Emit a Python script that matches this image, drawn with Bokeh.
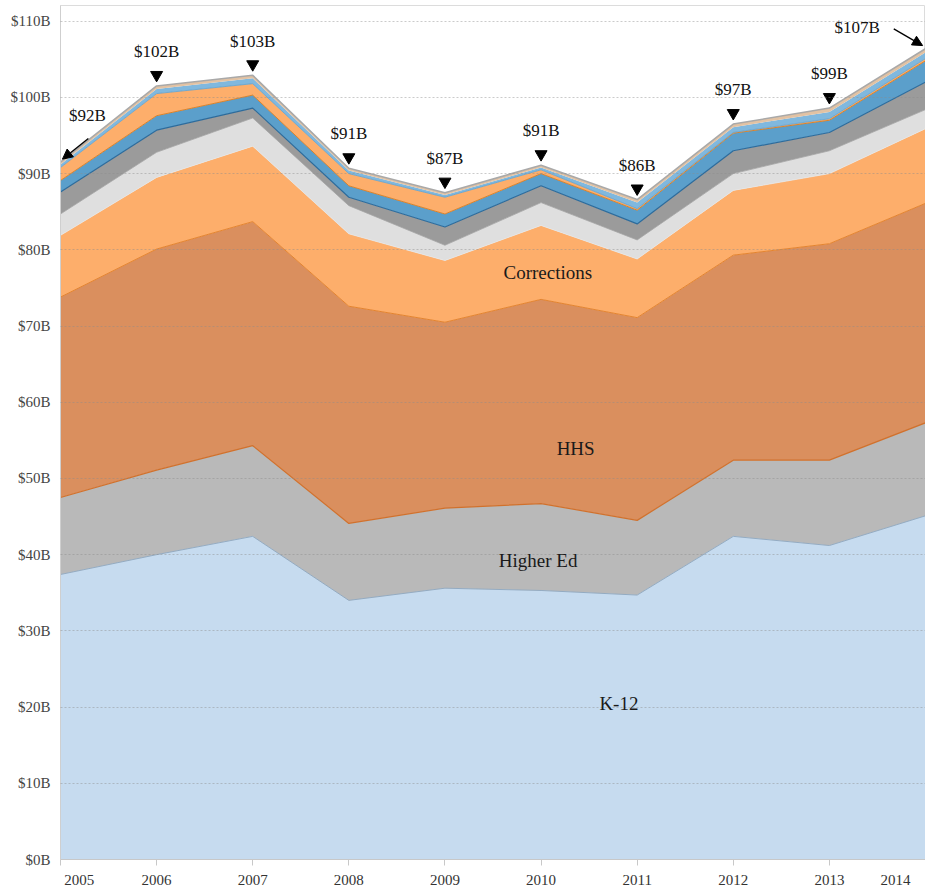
from bokeh.plotting import figure
from bokeh.models import Range1d, FixedTicker, Label, Arrow, NormalHead, ColumnDataSource
from bokeh.transform import stack
from bokeh.core.properties import value
from bokeh.embed import file_html
from bokeh.resources import INLINE

# ---------------- data (billions of dollars) ----------------
years = [2005, 2006, 2007, 2008, 2009, 2010, 2011, 2012, 2013, 2014]
k12 = [37.4, 40.0, 42.4, 34.0, 35.6, 35.3, 34.7, 42.4, 41.2, 45.1]
higher_ed = [10.1, 11.1, 11.9, 10.1, 10.5, 11.4, 9.8, 10.0, 11.2, 12.2]
hhs = [26.3, 29.0, 29.4, 28.5, 24.4, 26.8, 26.6, 26.9, 28.4, 28.8]
corrections = [8.1, 9.4, 9.9, 9.5, 8.1, 9.7, 7.7, 8.5, 9.2, 9.8]
other_a = [2.8, 3.3, 3.7, 3.7, 2.0, 3.0, 2.5, 2.2, 3.0, 2.5]
other_b = [2.9, 2.9, 1.3, 1.1, 2.4, 2.2, 2.1, 3.0, 2.4, 3.6]
other_c = [1.5, 1.9, 1.7, 1.5, 1.7, 1.6, 1.8, 2.3, 1.6, 2.8]
other_d = [1.7, 2.9, 1.5, 1.6, 2.2, 0.5, 0.2, 0.1, 0.2, 0.3]
other_e = [0.4, 0.6, 0.7, 0.4, 0.3, 0.3, 0.8, 0.7, 0.9, 0.8]
other_f = [0.3, 0.4, 0.4, 0.3, 0.3, 0.3, 0.4, 0.4, 0.5, 0.5]

total_labels = ["$92B", "$102B", "$103B", "$91B", "$87B", "$91B",
                "$86B", "$97B", "$99B", "$107B"]

y_ticks = [0, 10, 20, 30, 40, 50, 60, 70, 80, 90, 100, 110]
y_tick_labels = ["$0B", "$10B", "$20B", "$30B", "$40B", "$50B",
                 "$60B", "$70B", "$80B", "$90B", "$100B", "$110B"]
x_tick_labels = ["2005", "2006", "2007", "2008", "2009", "2010",
                 "2011", "2012", "2013", "2014"]

layer_keys = ["k12", "higher_ed", "hhs", "corrections", "other_a",
              "other_b", "other_c", "other_d", "other_e", "other_f"]
layer_values = [k12, higher_ed, hhs, corrections, other_a,
                other_b, other_c, other_d, other_e, other_f]
layer_colors = ["#c6dbef", "#b9b9b9", "#da8f5e", "#fdae6b", "#dfdfdf",
                "#9b9b9b", "#5b9fcb", "#fdae6b", "#80b8de", "#e2c2a3"]

# ---------------- figure ----------------
SERIF = "Liberation Serif"

data = {"year": years}
for k, v in zip(layer_keys, layer_values):
    data[k] = v
source = ColumnDataSource(data)

totals = [round(sum(vals), 2) for vals in zip(*layer_values)]

p = figure(width=925, height=891,
           x_range=Range1d(2005, 2014), y_range=Range1d(0, 112.06),
           output_backend="svg", toolbar_location=None,
           min_border_left=60, min_border_right=0,
           min_border_top=5, min_border_bottom=32)

p.varea_stack(stackers=layer_keys, x="year", color=layer_colors,
              source=source)

# boundary lines
edge_specs = [
    (["k12"], "#93abc2", 1.0),
    (["k12", "higher_ed"], "#d0712d", 1.2),
    (layer_keys[:3], "#e4842f", 1.0),
    (layer_keys[:4], "#e6e6e6", 0.8),
    (layer_keys[:5], "#a5a5a5", 0.8),
    (layer_keys[:6], "#2d6b9b", 1.2),
    (layer_keys[:7], "#d9822b", 1.0),
    (layer_keys[:8], "#5f9fcc", 0.8),
    (layer_keys, "#a9a9a9", 1.6),
]
for keys, col, w in edge_specs:
    p.line(x="year", y=stack(*keys), source=source, line_color=col,
           line_width=w)

# total markers and labels (middle years)
mid_x = years[1:-1]
mid_tot = totals[1:-1]
p.scatter(x=mid_x, y=[t + 1.45 for t in mid_tot], marker="inverted_triangle",
          size=12, color="black")
p.text(x=mid_x, y=[t + 4.5 for t in mid_tot], text=total_labels[1:-1],
       text_align="center", text_baseline="middle",
       text_font=value(SERIF), text_font_size="17px", text_color="#111")

# first / last year labels with arrows
p.text(x=[years[0] + 0.28, years[-1] - 0.71],
       y=[totals[0] + 6.1, totals[-1] + 2.8],
       text=[total_labels[0], total_labels[-1]],
       text_align="center", text_baseline="middle",
       text_font=value(SERIF), text_font_size="17px", text_color="#111")
p.add_layout(Arrow(end=NormalHead(size=10, fill_color="black", line_color="black"),
                   x_start=years[0] + 0.29, y_start=totals[0] + 3.1,
                   x_end=years[0] + 0.02, y_end=totals[0] + 0.4,
                   line_width=1.3, line_color="black"))
p.add_layout(Arrow(end=NormalHead(size=10, fill_color="black", line_color="black"),
                   x_start=years[-1] - 0.33, y_start=totals[-1] + 2.6,
                   x_end=years[-1] - 0.03, y_end=totals[-1] + 0.4,
                   line_width=1.3, line_color="black"))

# category labels
for txt, lx, ly in [("Corrections", 2010.07, 77.0), ("HHS", 2010.36, 53.9),
                    ("Higher Ed", 2009.97, 39.2), ("K-12", 2010.81, 20.5)]:
    p.add_layout(Label(x=lx, y=ly, text=txt, text_align="center",
                       text_baseline="middle", text_font=SERIF,
                       text_font_size="19px", text_color="#1a1a1a"))

# axes and grid
p.xgrid.visible = False
p.ygrid.ticker = FixedTicker(ticks=y_ticks)
p.ygrid.grid_line_color = "#8c8c8c"
p.ygrid.grid_line_alpha = 0.45
p.ygrid.grid_line_dash = "2 2"
p.ygrid.level = "guide"

p.yaxis.ticker = FixedTicker(ticks=y_ticks)
p.yaxis.major_label_overrides = {t: l for t, l in zip(y_ticks, y_tick_labels)}
p.yaxis.axis_line_color = "#cfcfcf"
p.yaxis.major_tick_line_color = None
p.yaxis.major_tick_out = 0
p.yaxis.major_tick_in = 0
p.yaxis.minor_tick_line_color = None
p.yaxis.major_label_standoff = 10
p.yaxis.major_label_text_font = SERIF
p.yaxis.major_label_text_font_size = "15px"
p.yaxis.major_label_text_color = "#444444"

p.xaxis.ticker = FixedTicker(ticks=years)
x_over = {y: l for y, l in zip(years, x_tick_labels)}
x_over[years[0]] = "\u2002" * 5 + x_tick_labels[0]
x_over[years[-1]] = x_tick_labels[-1] + "\u2002" * 2
p.xaxis.major_label_overrides = x_over
p.xaxis.axis_line_color = "#c8c8c8"
p.xaxis.major_tick_line_color = "#c8c8c8"
p.xaxis.major_tick_out = 6
p.xaxis.major_tick_in = 0
p.xaxis.minor_tick_line_color = None
p.xaxis.major_label_standoff = 6
p.xaxis.major_label_text_font = SERIF
p.xaxis.major_label_text_font_size = "15px"
p.xaxis.major_label_text_color = "#333333"

p.outline_line_color = "#dcdcdc"
p.background_fill_color = "white"
p.border_fill_color = "white"

open("out.html", "w").write(file_html(p, INLINE))
